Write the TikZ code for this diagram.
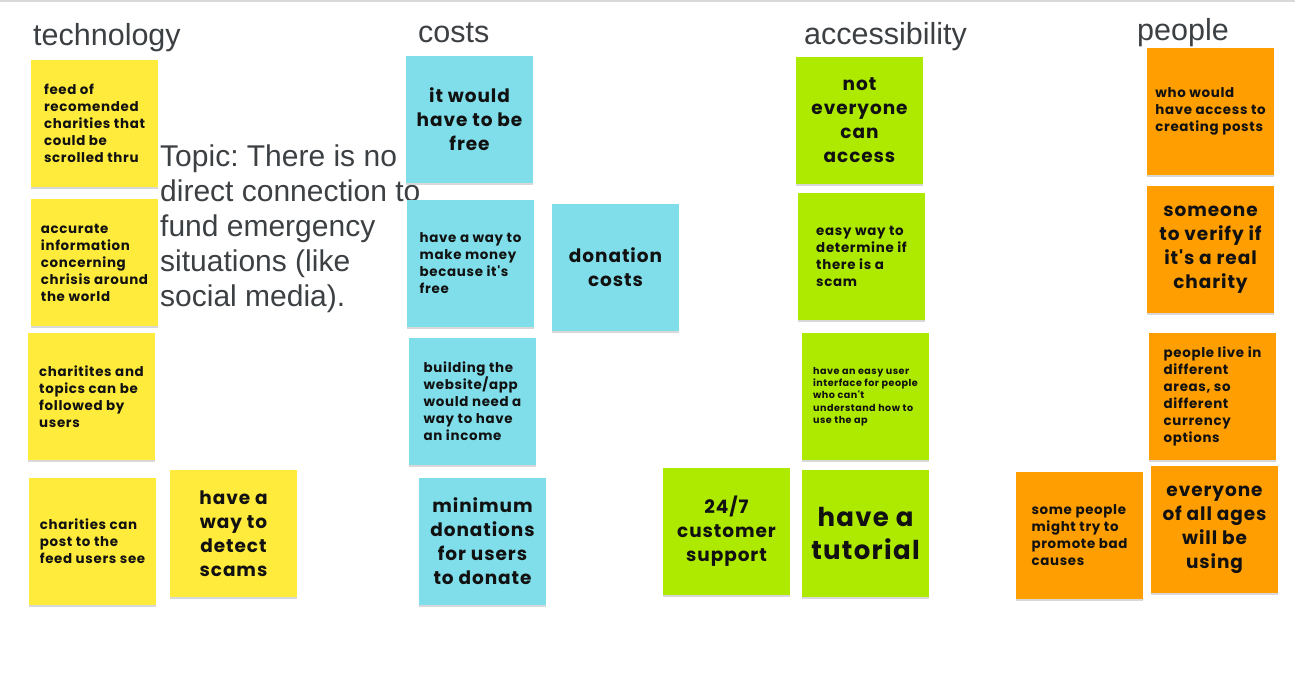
\documentclass[tikz,border=0pt]{standalone}
\usepackage{fontspec}
\setmainfont{Liberation Sans}
\newfontfamily\stickfont{Poppins}[LetterSpace=5]
\usetikzlibrary{shadows}
\frenchspacing
\definecolor{stYellow}{HTML}{FFEB3B}
\definecolor{stCyan}{HTML}{80DEEA}
\definecolor{stLime}{HTML}{AEEA00}
\definecolor{stOrange}{HTML}{FF9E00}
\definecolor{hdrGray}{HTML}{3C4043}
\definecolor{noteInk}{HTML}{111111}
\tikzset{
  sticky/.style={draw=none, minimum width=127pt, minimum height=127pt, inner sep=0pt,
    text=noteInk, drop shadow={shadow xshift=0pt, shadow yshift=-1.5pt, fill=black!25, opacity=0.6}},
  smalltxt/.style={align=left, font=\stickfont\bfseries\fontsize{13.4}{17}\selectfont},
  tinytxt/.style={align=left, font=\stickfont\bfseries\fontsize{9.6}{12.3}\selectfont},
  bigtxt/.style={align=center, font=\stickfont\bfseries\fontsize{18.5}{24}\selectfont},
  hugetxt/.style={align=center, font=\stickfont\bfseries\fontsize{26}{33}\selectfont},
  header/.style={anchor=west, inner sep=0pt, text=hdrGray, font=\fontsize{30.5}{34}\selectfont},
  yel/.style={sticky, fill=stYellow},
  cya/.style={sticky, fill=stCyan},
  lim/.style={sticky, fill=stLime},
  ora/.style={sticky, fill=stOrange},
}
\begin{document}
\begin{tikzpicture}[x=1pt, y=-1pt]
\useasboundingbox[fill=white] (0,0) rectangle (1295,680);
\draw[black!15, line width=2pt] (0,1) -- (1295,1);

% headers
\node[header] (hTech) at (33,38) {technology};
\node[header] (hCost) at (418,33) {costs};
\node[header] (hAcc) at (804,37) {accessibility};
\node[header] (hPeop) at (1137,33) {people};

% topic
\node[anchor=north west, inner sep=0pt, align=left, text=hdrGray,
  font=\fontsize{30}{35}\selectfont] (topic) at (160,145)
  {Topic: There is no\\direct connection to\\fund emergency\\situations (like\\social media).};

% technology
\node[yel, smalltxt] (t1) at (94.5,123.5) {feed of\\recomended\\charities that\\could be\\scrolled thru};
\node[yel, smalltxt] (t2) at (94.5,262.5) {accurate\\information\\concerning\\chrisis around\\the world};
\node[yel, smalltxt] (t3) at (91.5,396.5) {charitites and\\topics can be\\followed by\\users};
\node[yel, smalltxt] (t4) at (92.5,541.5) {charities can\\post to the\\feed users see};
\node[yel, bigtxt] (t5) at (233.5,533.5) {have a\\way to\\detect\\scams};

% costs
\node[cya, bigtxt] (c1) at (469.5,119.5) {it would\\have to be\\free};
\node[cya, smalltxt] (c2) at (470.5,263.5) {have a way to\\make money\\because it's\\free};
\node[cya, bigtxt] (c3) at (615.5,267.5) {donation\\costs};
\node[cya, smalltxt] (c4) at (472.5,401.5) {building the\\website/app\\would need a\\way to have\\an income};
\node[cya, bigtxt] (c5) at (482.5,541.5) {minimum\\donations\\for users\\to donate};

% accessibility
\node[lim, bigtxt] (a1) at (859.5,120.5) {not\\everyone\\can\\access};
\node[lim, smalltxt] (a2) at (861.5,256.5) {easy way to\\determine if\\there is a\\scam};
\node[lim, tinytxt] (a3) at (865.5,396.5) {have an easy user\\interface for people\\who can't\\understand how to\\use the ap};
\node[lim, bigtxt] (a4) at (726.5,531.5) {24/7\\customer\\support};
\node[lim, hugetxt] (a5) at (865.5,533.5) {have a\\tutorial};

% people
\node[ora, smalltxt] (p1) at (1210.5,111.5) {who would\\have access to\\creating posts};
\node[ora, bigtxt] (p2) at (1210.5,249.5) {someone\\to verify if\\it's a real\\charity};
\node[ora, smalltxt] (p3) at (1212.5,396.5) {people live in\\different\\areas, so\\different\\currency\\options};
\node[ora, smalltxt] (p4) at (1079.5,535.5) {some people\\might try to\\promote bad\\causes};
\node[ora, bigtxt] (p5) at (1214.5,529.5) {everyone\\of all ages\\will be\\using};
\end{tikzpicture}
\end{document}
